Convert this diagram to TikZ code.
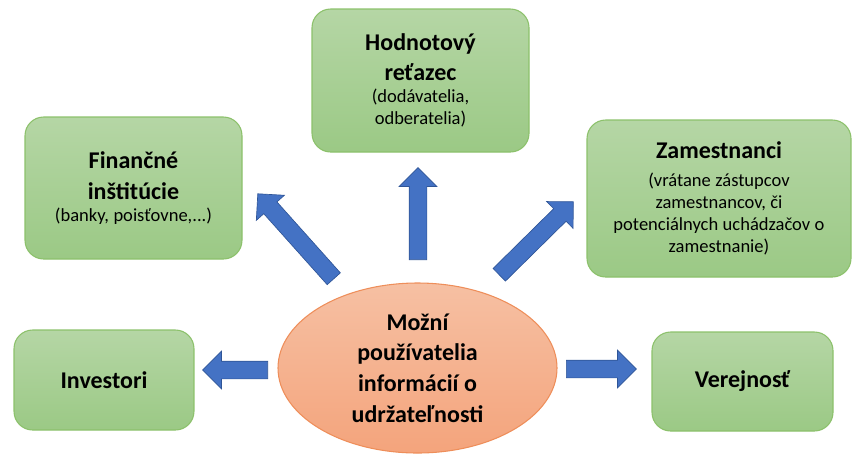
\documentclass[tikz,border=0pt]{standalone}
\usepackage{fontspec}
\setmainfont{Carlito}
\usetikzlibrary{shapes.geometric,shapes.arrows}

\definecolor{boxtop}{HTML}{B5D6A5}
\definecolor{boxbot}{HTML}{9BC985}
\definecolor{boxline}{HTML}{8CC16B}
\definecolor{elltop}{HTML}{F6C0A3}
\definecolor{ellbot}{HTML}{F4A47C}
\definecolor{ellline}{HTML}{EE8E5A}
\definecolor{arrfill}{HTML}{4472C4}
\definecolor{arrline}{HTML}{2F5597}

\newcommand{\titfont}{\fontsize{18}{23}\selectfont\bfseries}
\newcommand{\subfont}{\fontsize{13.9}{16.5}\selectfont}

\begin{document}
\begin{tikzpicture}[x=0.75pt,y=-0.75pt,
    userbox/.style={rounded corners=14pt, top color=boxtop, bottom color=boxbot,
        draw=boxline, line width=0.8pt, align=center, inner sep=0pt},
    bigarrow/.style={single arrow, fill=arrfill, draw=arrline, line width=0.5pt,
        inner xsep=0pt, inner ysep=6.375pt, minimum width=27.75pt,
        single arrow head extend=7.5pt, single arrow tip angle=90, anchor=tail}]
    \useasboundingbox (0,0) rectangle (853,455);

    % center
    \node[ellipse, top color=elltop, bottom color=ellbot, draw=ellline, line width=0.8pt,
        minimum width=209.25pt, minimum height=127.5pt, align=center, inner sep=0pt,
        font=\titfont] (users) at (417.5,368)
        {Možní\\ používatelia\\ informácií o\\ udržateľnosti};

    % boxes
    \node[userbox, minimum width=162.75pt, minimum height=106.5pt, text width=150pt]
        (fin) at (133.5,188)
        {{\titfont Finančné\\ inštitúcie\par}{\subfont (banky, poisťovne,...)\par}};
    \node[userbox, minimum width=162.75pt, minimum height=107.25pt, text width=150pt]
        (hod) at (420.5,80.5)
        {{\titfont Hodnotový\\ reťazec\par}{\subfont (dodávatelia,\\ odberatelia)\par}};
    \node[userbox, minimum width=198pt, minimum height=117.75pt, text width=190pt]
        (zam) at (719,198.5)
        {{\titfont Zamestnanci\par}\vspace{5pt}{\subfont (vrátane zástupcov\\ zamestnancov, či\\ potenciálnych uchádzačov o\\ zamestnanie)\par}};
    \node[userbox, minimum width=135pt, minimum height=75pt, font=\titfont]
        (inv) at (104,380) {Investori};
    \node[userbox, minimum width=135.75pt, minimum height=74.25pt, font=\titfont]
        (ver) at (742.5,381.5) {Verejnosť};

    % arrows
    \node[bigarrow, minimum height=85.5pt, rotate=131.8] (arrFin) at (334,279) {};
    \node[bigarrow, minimum height=69pt, rotate=90] (arrHod) at (418,260) {};
    \node[bigarrow, minimum height=78pt, rotate=44.6] (arrZam) at (499,275) {};
    \node[bigarrow, minimum height=48.75pt, rotate=180] (arrInv) at (268,370) {};
    \node[bigarrow, minimum height=52.5pt] (arrVer) at (566,369) {};

\end{tikzpicture}
\end{document}
